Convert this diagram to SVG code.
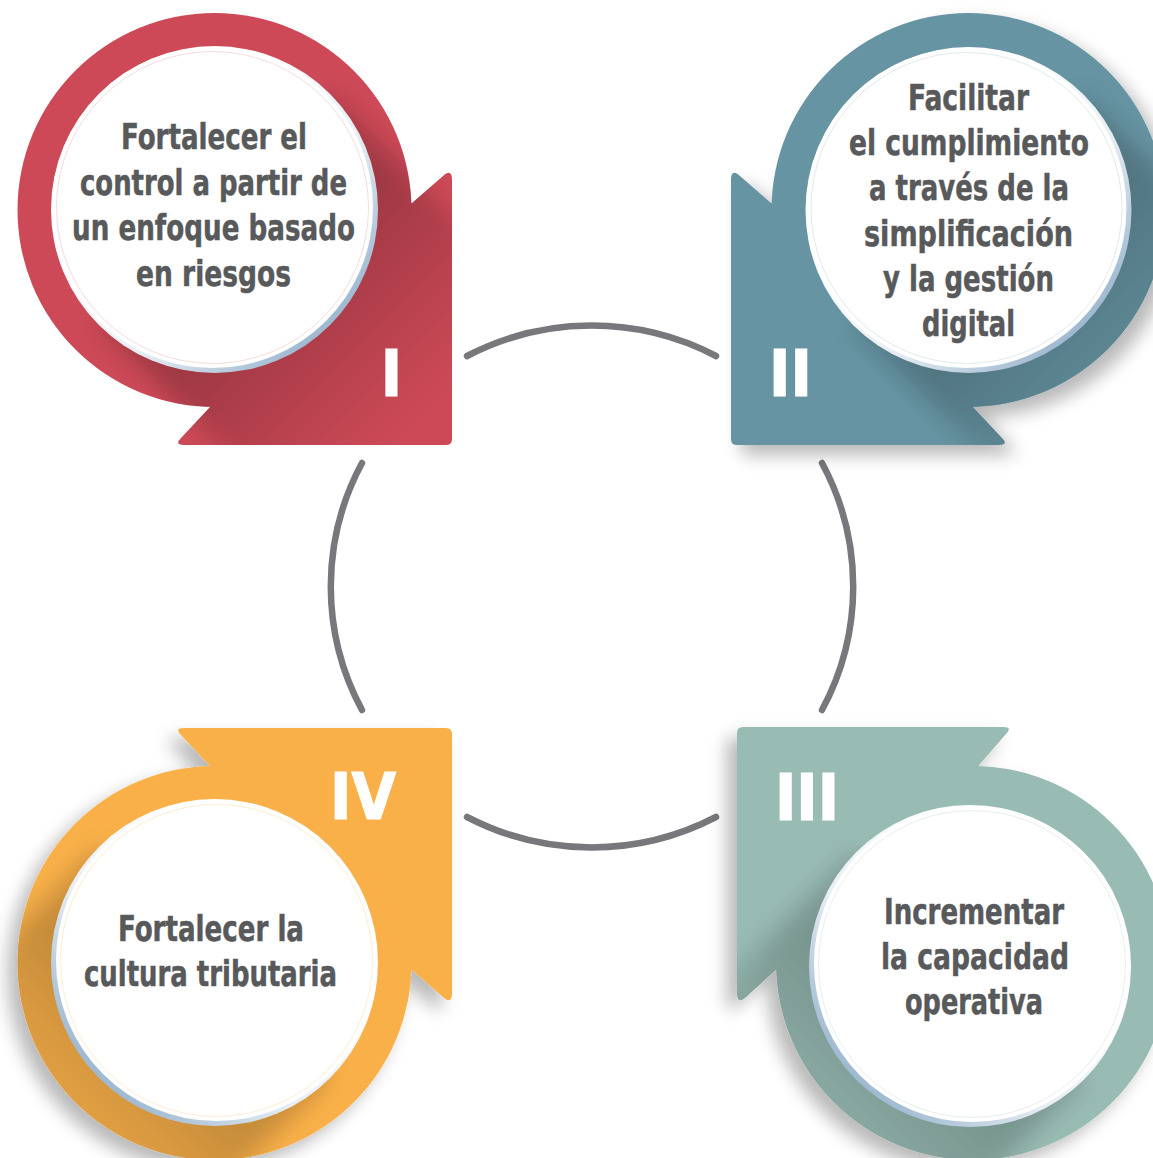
<svg xmlns="http://www.w3.org/2000/svg" width="1153" height="1158" viewBox="0 0 1153 1158">
<style>
.lbl{font-family:"Liberation Sans Narrow","Arial Narrow","DejaVu Sans Condensed","Liberation Sans",sans-serif;font-weight:bold;font-size:36px;fill:#58595b;stroke:#58595b;stroke-width:0.5;text-anchor:middle}
.num{font-family:"Liberation Sans Narrow","Arial Narrow","DejaVu Sans Condensed","Liberation Sans",sans-serif;font-weight:bold;font-size:64px;fill:#ffffff;stroke:#ffffff;stroke-width:1.2;text-anchor:middle}
.conn{fill:none;stroke:#77777c;stroke-width:6.5;stroke-linecap:round}
.white{fill:#ffffff}
</style>
<defs>
<filter id="dsR" x="-20%" y="-20%" width="140%" height="140%">
<feGaussianBlur in="SourceAlpha" stdDeviation="9"/>
<feOffset dx="10" dy="10" result="b"/>
<feComponentTransfer><feFuncA type="linear" slope="0.28"/></feComponentTransfer>
<feMerge><feMergeNode/><feMergeNode in="SourceGraphic"/></feMerge>
</filter>
<filter id="dsL" x="-20%" y="-20%" width="140%" height="140%">
<feGaussianBlur in="SourceAlpha" stdDeviation="9"/>
<feOffset dx="-10" dy="10" result="b"/>
<feComponentTransfer><feFuncA type="linear" slope="0.28"/></feComponentTransfer>
<feMerge><feMergeNode/><feMergeNode in="SourceGraphic"/></feMerge>
</filter>
<filter id="blur" x="-20%" y="-20%" width="140%" height="140%">
<feGaussianBlur stdDeviation="12"/>
</filter>
<linearGradient id="rimR" x1="0.3" y1="0.3" x2="0.85" y2="0.85">
<stop offset="0" stop-color="#ffffff"/><stop offset="0.55" stop-color="#e8eef4"/><stop offset="1" stop-color="#9fb9d1"/>
</linearGradient>
<linearGradient id="rimL" x1="0.7" y1="0.3" x2="0.15" y2="0.85">
<stop offset="0" stop-color="#ffffff"/><stop offset="0.55" stop-color="#e8eef4"/><stop offset="1" stop-color="#9fb9d1"/>
</linearGradient>
<linearGradient id="sh1" gradientUnits="userSpaceOnUse" x1="285" y1="280" x2="420" y2="415">
<stop offset="0" stop-color="#000" stop-opacity="0.22"/><stop offset="1" stop-color="#000" stop-opacity="0"/>
</linearGradient>
<linearGradient id="sh2" gradientUnits="userSpaceOnUse" x1="1039" y1="281" x2="1174" y2="415">
<stop offset="0" stop-color="#000" stop-opacity="0.2"/><stop offset="1" stop-color="#000" stop-opacity="0"/>
</linearGradient>
<linearGradient id="sh3" gradientUnits="userSpaceOnUse" x1="899" y1="1037" x2="765" y2="1171">
<stop offset="0" stop-color="#000" stop-opacity="0.2"/><stop offset="1" stop-color="#000" stop-opacity="0"/>
</linearGradient>
<linearGradient id="sh4" gradientUnits="userSpaceOnUse" x1="144" y1="1033" x2="9" y2="1168">
<stop offset="0" stop-color="#000" stop-opacity="0.2"/><stop offset="1" stop-color="#000" stop-opacity="0"/>
</linearGradient>
<clipPath id="c1">
<circle cx="214.5" cy="210" r="197"/>
<path d="M214.5,210 L412,203 L443,176 Q452,168 452,180 L452,439 Q452,445 446,445 L184,445 Q174,445 181,438 L210,407 Z"/>
</clipPath>
<clipPath id="c2">
<circle cx="968.5" cy="210" r="197"/>
<path d="M968.5,210 L771,203 L740,176 Q731,168 731,180 L731,439 Q731,445 737,445 L999,445 Q1009,445 1002,438 L973,407 Z"/>
</clipPath>
<clipPath id="c3">
<circle cx="973" cy="963" r="197"/>
<path d="M973,963 L777,969 L746,997 Q737,1005 737,993 L737,733 Q737,727 743,727 L1003,727 Q1013,727 1006,734 L979,765 Z"/>
</clipPath>
<clipPath id="c4">
<circle cx="214.5" cy="963" r="197"/>
<path d="M214.5,963 L412,970 L443,997 Q452,1005 452,993 L452,734 Q452,728 446,728 L184,728 Q174,728 181,735 L210,766 Z"/>
</clipPath>
</defs>
<rect width="1153" height="1158" fill="#ffffff"/>

<g id="connectors">
<path class="conn" d="M467,356 A270,270 0 0 1 716,356"/>
<path class="conn" d="M822,463 A260,260 0 0 1 822,710"/>
<path class="conn" d="M467,817 A270,270 0 0 0 716,817"/>
<path class="conn" d="M362,463 A260,260 0 0 0 362,710"/>
</g>

<g id="node-1">
<g fill="#cd4957">
<circle cx="214.5" cy="210" r="197"/>
<path d="M214.5,210 L412,203 L443,176 Q452,168 452,180 L452,439 Q452,445 446,445 L184,445 Q174,445 181,438 L210,407 Z"/>
</g>
<g clip-path="url(#c1)"><polygon filter="url(#blur)" fill="url(#sh1)" points="99,325 311,537 542,306 330,94"/></g>
<circle cx="214.5" cy="209.5" r="163.5" fill="url(#rimR)"/>
<circle cx="212.5" cy="207.5" r="160.5" class="white"/>
<circle cx="212.5" cy="207.5" r="156" fill="none" stroke="#cd4957" stroke-opacity="0.25" stroke-width="0.8"/>
<text class="lbl" x="214" y="149" textLength="186" lengthAdjust="spacingAndGlyphs">Fortalecer el</text>
<text class="lbl" x="213.5" y="194.5" textLength="267" lengthAdjust="spacingAndGlyphs">control a partir de</text>
<text class="lbl" x="213.5" y="240" textLength="283" lengthAdjust="spacingAndGlyphs">un enfoque basado</text>
<text class="lbl" x="213.5" y="286" textLength="155" lengthAdjust="spacingAndGlyphs">en riesgos</text>
<text class="num" x="391.5" y="396">I</text>
</g>

<g id="node-2">
<g fill="#6694a2" filter="url(#dsR)">
<circle cx="968.5" cy="210" r="197"/>
<path d="M968.5,210 L771,203 L740,176 Q731,168 731,180 L731,439 Q731,445 737,445 L999,445 Q1009,445 1002,438 L973,407 Z"/>
</g>
<g clip-path="url(#c2)"><polygon filter="url(#blur)" fill="url(#sh2)" points="853,325 1065,537 1296,307 1084,95"/></g>
<circle cx="968.5" cy="210" r="163" fill="url(#rimR)"/>
<circle cx="966.5" cy="208" r="160" class="white"/>
<circle cx="966.5" cy="208" r="155.5" fill="none" stroke="#6694a2" stroke-opacity="0.25" stroke-width="0.8"/>
<text class="lbl" x="968.5" y="110" textLength="121" lengthAdjust="spacingAndGlyphs">Facilitar</text>
<text class="lbl" x="969" y="155" textLength="240" lengthAdjust="spacingAndGlyphs">el cumplimiento</text>
<text class="lbl" x="969" y="200" textLength="200" lengthAdjust="spacingAndGlyphs">a través de la</text>
<text class="lbl" x="968.5" y="246" textLength="209" lengthAdjust="spacingAndGlyphs">simplificación</text>
<text class="lbl" x="968.5" y="291" textLength="171" lengthAdjust="spacingAndGlyphs">y la gestión</text>
<text class="lbl" x="968.5" y="336" textLength="93" lengthAdjust="spacingAndGlyphs">digital</text>
<text class="num" x="790.5" y="396">II</text>
</g>

<g id="node-3">
<g fill="#98bbb3" filter="url(#dsL)">
<circle cx="973" cy="963" r="197"/>
<path d="M973,963 L777,969 L746,997 Q737,1005 737,993 L737,733 Q737,727 743,727 L1003,727 Q1013,727 1006,734 L979,765 Z"/>
</g>
<g clip-path="url(#c3)"><polygon filter="url(#blur)" fill="url(#sh3)" points="856,852 644,1064 872,1292 1084,1080"/></g>
<circle cx="970" cy="966" r="161" fill="url(#rimL)"/>
<circle cx="972" cy="964" r="158" class="white"/>
<circle cx="972" cy="964" r="153.5" fill="none" stroke="#98bbb3" stroke-opacity="0.3" stroke-width="0.8"/>
<text class="lbl" x="974" y="924" textLength="180" lengthAdjust="spacingAndGlyphs">Incrementar</text>
<text class="lbl" x="975" y="969" textLength="188" lengthAdjust="spacingAndGlyphs">la capacidad</text>
<text class="lbl" x="974" y="1014" textLength="138" lengthAdjust="spacingAndGlyphs">operativa</text>
<text class="num" x="807" y="820">III</text>
</g>

<g id="node-4">
<g fill="#f9b048" filter="url(#dsL)">
<circle cx="214.5" cy="963" r="197"/>
<path d="M214.5,963 L412,970 L443,997 Q452,1005 452,993 L452,734 Q452,728 446,728 L184,728 Q174,728 181,735 L210,766 Z"/>
</g>
<g clip-path="url(#c4)"><polygon filter="url(#blur)" fill="url(#sh4)" points="99,847 -113,1059 118,1290 330,1078"/></g>
<circle cx="214.5" cy="962.5" r="163.5" fill="url(#rimL)"/>
<circle cx="216.5" cy="960.5" r="160.5" class="white"/>
<circle cx="216.5" cy="960.5" r="156" fill="none" stroke="#f9b048" stroke-opacity="0.3" stroke-width="0.8"/>
<text class="lbl" x="211" y="941" textLength="186" lengthAdjust="spacingAndGlyphs">Fortalecer la</text>
<text class="lbl" x="210.5" y="986" textLength="253" lengthAdjust="spacingAndGlyphs">cultura tributaria</text>
<text class="num" x="363" y="819">IV</text>
</g>
</svg>
